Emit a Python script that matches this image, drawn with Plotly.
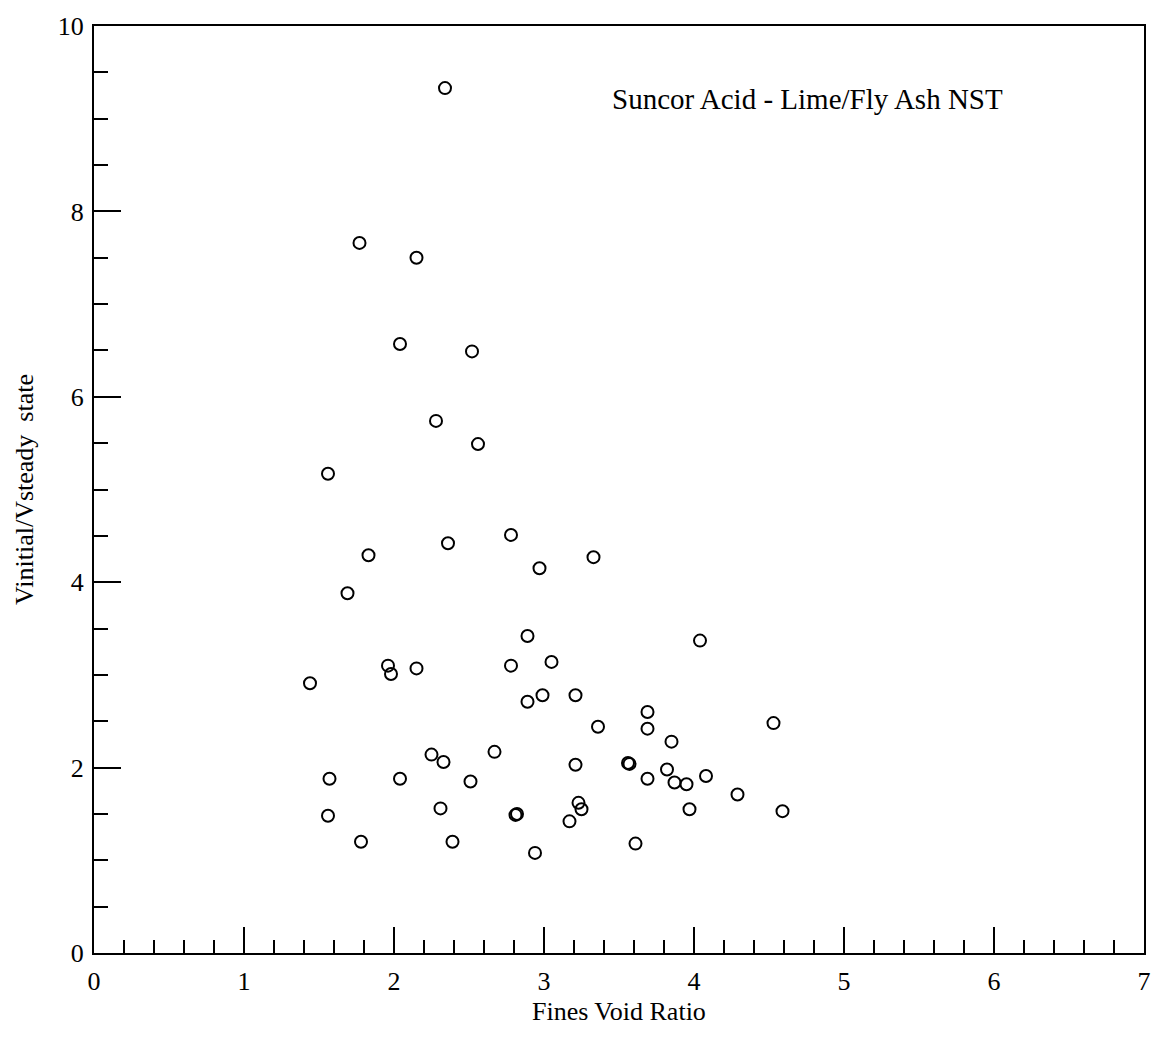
import plotly.graph_objects as go

fines_void_ratio = [2.34, 1.77, 2.15, 2.04, 2.52, 2.28, 2.56, 1.56, 2.78, 1.83,
                    2.36, 3.33, 2.97, 1.69, 2.89, 4.04, 1.96, 1.98, 2.15, 2.78,
                    3.05, 1.44, 2.89, 2.99, 3.21, 3.69, 3.36, 3.69, 4.53, 3.85,
                    2.25, 2.33, 2.67, 3.21, 3.56, 3.57, 1.57, 2.04, 2.51, 3.69,
                    3.82, 3.87, 3.95, 4.08, 4.29, 2.31, 3.23, 3.25, 2.81, 2.82,
                    3.97, 4.59, 1.56, 3.17, 1.78, 2.39, 3.61, 2.94]
v_ratio = [9.33, 7.66, 7.50, 6.57, 6.49, 5.74, 5.49, 5.17, 4.51, 4.29,
           4.42, 4.27, 4.15, 3.88, 3.42, 3.37, 3.10, 3.01, 3.07, 3.10,
           3.14, 2.91, 2.71, 2.78, 2.78, 2.60, 2.44, 2.42, 2.48, 2.28,
           2.14, 2.06, 2.17, 2.03, 2.05, 2.04, 1.88, 1.88, 1.85, 1.88,
           1.98, 1.84, 1.82, 1.91, 1.71, 1.56, 1.62, 1.55, 1.49, 1.50,
           1.55, 1.53, 1.48, 1.42, 1.20, 1.20, 1.18, 1.08]

x_ticks = [0, 1, 2, 3, 4, 5, 6, 7]
y_ticks = [0, 2, 4, 6, 8, 10]

FONT = "Liberation Serif"

fig = go.Figure()
fig.add_trace(go.Scatter(
    x=fines_void_ratio, y=v_ratio, mode="markers",
    marker=dict(symbol="circle-open", size=12, color="black",
                line=dict(width=2, color="black")),
    showlegend=False, hoverinfo="x+y"))

fig.update_layout(
    width=1165, height=1038,
    margin=dict(l=94, r=21, t=18, b=85),
    plot_bgcolor="white", paper_bgcolor="white",
    font=dict(family=FONT, size=26, color="black"),
    annotations=[
        dict(text="Suncor Acid - Lime/Fly Ash NST", x=0.491, y=0.921,
             xref="paper", yref="paper", xanchor="left", yanchor="middle",
             showarrow=False, font=dict(family=FONT, size=29, color="black")),
        dict(text="Fines Void Ratio", x=0.5, y=-0.0635,
             xref="paper", yref="paper", xanchor="center", yanchor="middle",
             showarrow=False, font=dict(family=FONT, size=26, color="black")),
    ],
)
fig.update_xaxes(
    range=[0, 7], tickvals=x_ticks, ticktext=[str(v) for v in x_ticks],
    ticks="inside", ticklen=26, tickwidth=2, tickcolor="black",
    minor=dict(dtick=0.2, ticks="inside", ticklen=13, tickwidth=2, tickcolor="black"),
    showline=True, linewidth=2, linecolor="black", mirror=True,
    showgrid=False, zeroline=False,
    tickfont=dict(family=FONT, size=26), ticklabelstandoff=4,
)
fig.update_yaxes(
    range=[0, 10], tickvals=y_ticks, ticktext=[str(v) for v in y_ticks],
    ticks="inside", ticklen=27, tickwidth=2, tickcolor="black",
    minor=dict(dtick=0.5, ticks="inside", ticklen=14, tickwidth=2, tickcolor="black"),
    showline=True, linewidth=2, linecolor="black", mirror=True,
    showgrid=False, zeroline=False,
    title=dict(text="Vinitial/Vsteady  state", font=dict(family=FONT, size=26), standoff=17),
    tickfont=dict(family=FONT, size=26), ticklabelstandoff=3,
)

fig.write_html("out.html")
